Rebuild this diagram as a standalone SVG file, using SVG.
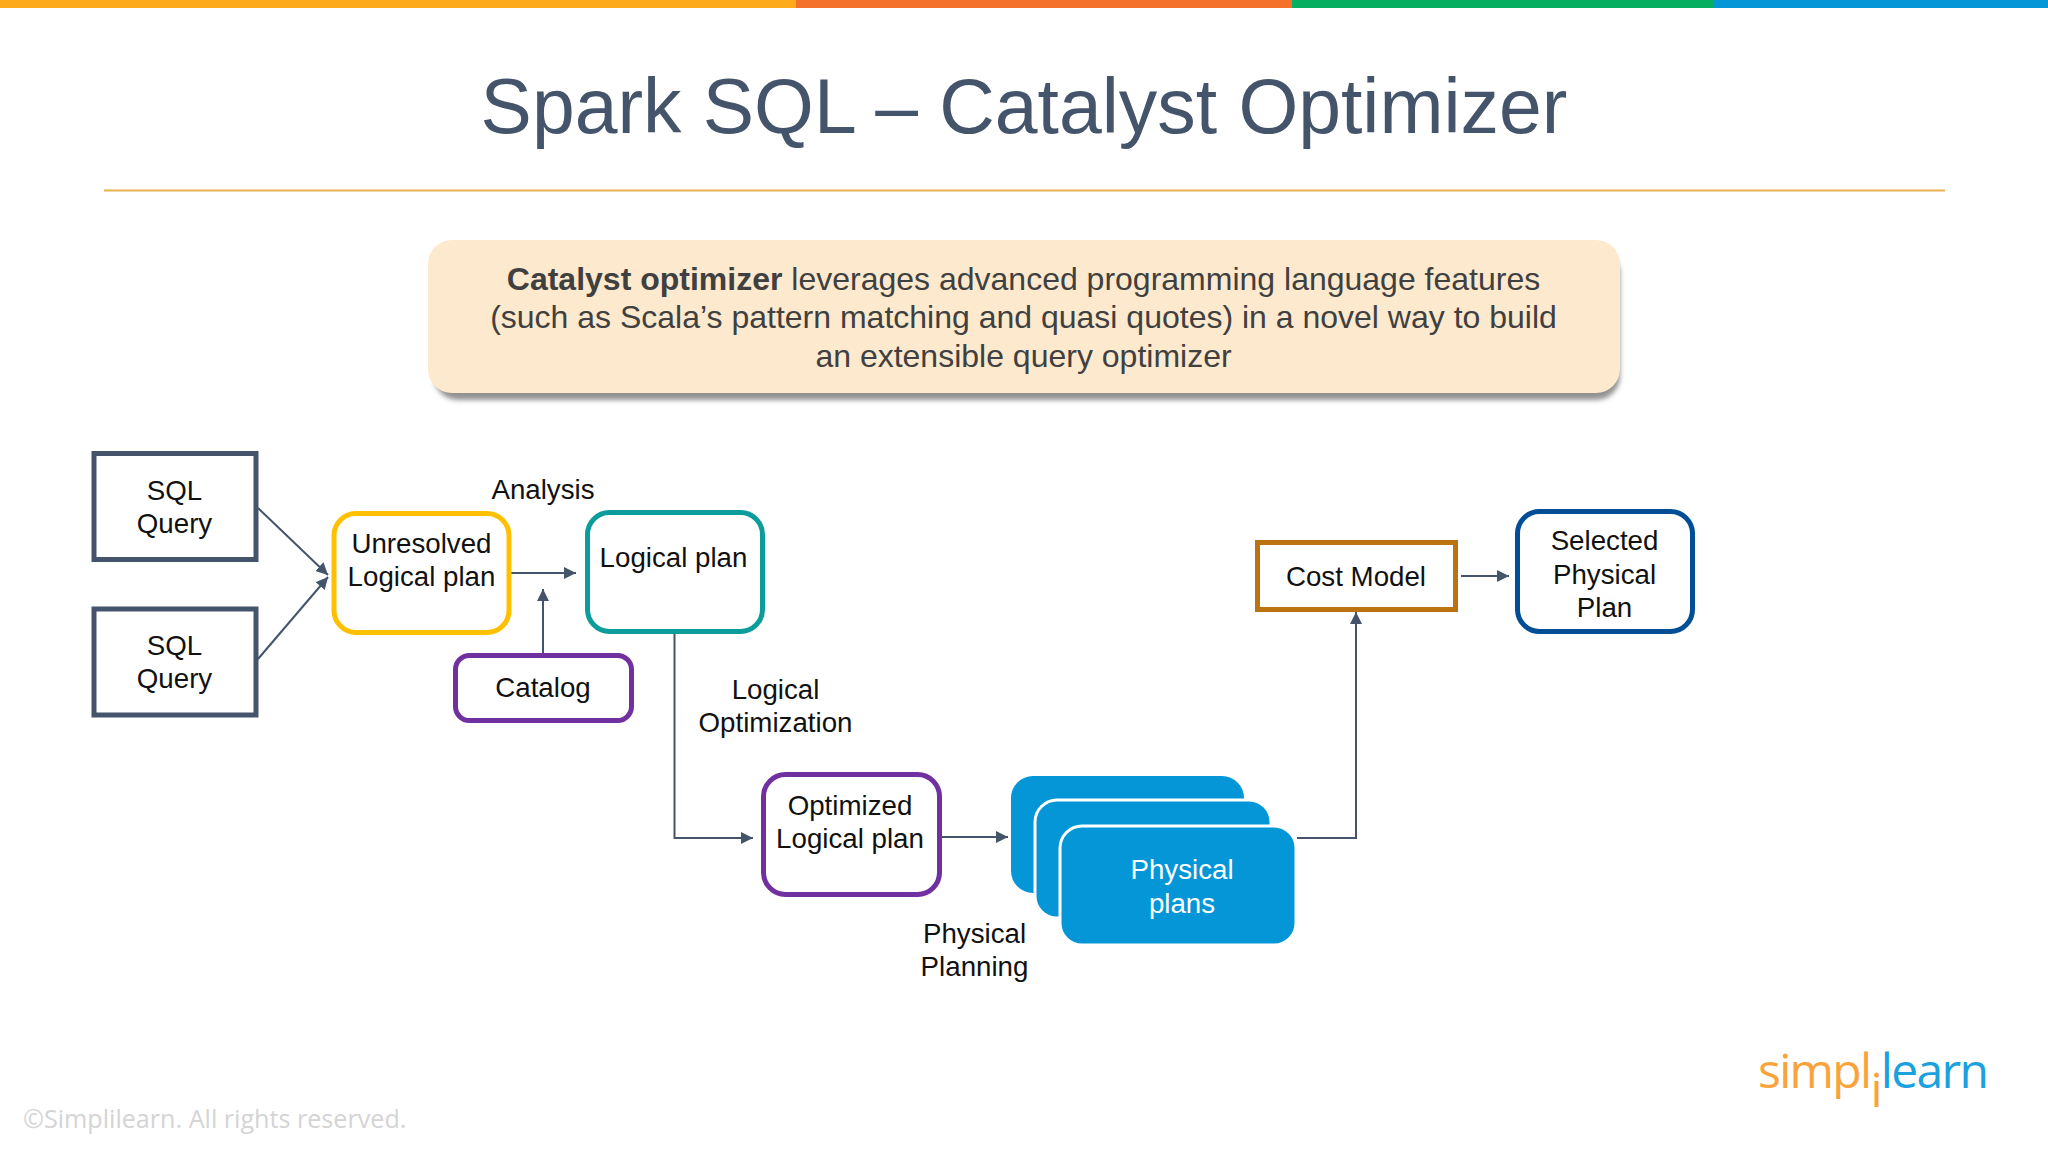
<svg xmlns="http://www.w3.org/2000/svg" width="2048" height="1152" viewBox="0 0 2048 1152">
<defs>
<style>
text{font-family:"Liberation Sans",Arial,sans-serif;}
.t{font-size:27.7px;fill:#111;text-anchor:middle;}
.w{fill:#fff;}
.b{fill:#fff;stroke-width:5;}
.c{fill:none;stroke:#44546a;stroke-width:2;}
.call{font-size:32px;fill:#404040;text-anchor:middle;}
</style>
<filter id="blur" x="-5%" y="-20%" width="110%" height="140%"><feGaussianBlur stdDeviation="2.500"/></filter>
<marker id="a" viewBox="0 0 10 10" refX="10" refY="5" markerWidth="12" markerHeight="12" markerUnits="userSpaceOnUse" orient="auto"><path d="M0 0L10 5L0 10Z" fill="#44546a"/></marker>
</defs>
<rect width="2048" height="1152" fill="#fff"/>
<rect x="0" y="0" width="796" height="8" fill="#fdab1d"/>
<rect x="796" y="0" width="496" height="8" fill="#f4712c"/>
<rect x="1292" y="0" width="422" height="8" fill="#06ae60"/>
<rect x="1714" y="0" width="334" height="8" fill="#0596d8"/>
<text x="1024" y="133" font-size="76.900" fill="#44546a" text-anchor="middle">Spark SQL – Catalyst Optimizer</text>
<line x1="104" y1="190.500" x2="1945" y2="190.500" stroke="#e8b04f" stroke-width="2"/>
<g id="callout">
<rect x="434" y="250" width="1186" height="150" rx="24" fill="#777" opacity=".8" filter="url(#blur)"/>
<rect x="428" y="240" width="1192" height="153" rx="24" fill="#fde9cd"/>
<text class="call" x="1023.500" y="290"><tspan font-weight="700">Catalyst optimizer</tspan> leverages advanced programming language features</text>
<text class="call" x="1023.500" y="328">(such as Scala’s pattern matching and quasi quotes) in a novel way to build</text>
<text class="call" x="1023.500" y="367">an extensible query optimizer</text>
</g>
<g id="connectors">
<path class="c" marker-end="url(#a)" d="M258 508L328 575"/>
<path class="c" marker-end="url(#a)" d="M258 659L328 577"/>
<path class="c" marker-end="url(#a)" d="M509 573H576"/>
<path class="c" marker-end="url(#a)" d="M543 653V589"/>
<path class="c" marker-end="url(#a)" d="M674.500 634V838H753"/>
<path class="c" marker-end="url(#a)" d="M941 837H1008"/>
<path class="c" marker-end="url(#a)" d="M1297 838H1356V612"/>
<path class="c" marker-end="url(#a)" d="M1461 576H1509"/>
</g>
<g id="sql1"><rect class="b" x="94" y="453.500" width="162" height="106" stroke="#44546a"/><text class="t" x="174.500" y="499.500">SQL</text><text class="t" x="174.500" y="532.500">Query</text></g>
<g id="sql2"><rect class="b" x="94" y="609" width="162" height="106" stroke="#44546a"/><text class="t" x="174.500" y="654.500">SQL</text><text class="t" x="174.500" y="688">Query</text></g>
<g id="unresolved"><rect class="b" x="334" y="513.500" width="175" height="119" rx="22" stroke="#ffc000"/><text class="t" x="421.500" y="552.500">Unresolved</text><text class="t" x="421.500" y="586">Logical plan</text></g>
<text class="t" x="543" y="498.500">Analysis</text>
<g id="logical"><rect class="b" x="587.500" y="512.500" width="175" height="119" rx="22" stroke="#0c9c9c"/><text class="t" x="673.500" y="566.500">Logical plan</text></g>
<g id="catalog"><rect class="b" x="455.500" y="655.500" width="176" height="65" rx="14" stroke="#7030a0"/><text class="t" x="543" y="697">Catalog</text></g>
<text class="t" x="775.500" y="699">Logical</text>
<text class="t" x="775.500" y="732">Optimization</text>
<g id="optimized"><rect class="b" x="763.500" y="774.500" width="176" height="120" rx="22" stroke="#7030a0"/><text class="t" x="850" y="814.500">Optimized</text><text class="t" x="850" y="848">Logical plan</text></g>
<g id="plans">
<rect x="1011" y="776" width="233" height="117" rx="22" fill="#0596d8"/>
<rect x="1035" y="800" width="236" height="118" rx="22" fill="#0596d8" stroke="#fff" stroke-width="3"/>
<rect x="1060" y="826" width="236" height="119" rx="22" fill="#0596d8" stroke="#fff" stroke-width="3"/>
<text class="t w" x="1182" y="879">Physical</text><text class="t w" x="1182" y="912.500">plans</text>
</g>
<text class="t" x="974.500" y="943">Physical</text>
<text class="t" x="974.500" y="976">Planning</text>
<g id="cost"><rect class="b" x="1257.500" y="542.500" width="198" height="67" stroke="#bb7311"/><text class="t" x="1356" y="586">Cost Model</text></g>
<g id="selected"><rect class="b" x="1517.500" y="511.500" width="175" height="120" rx="22" stroke="#004f96"/><text class="t" x="1604.500" y="549.500">Selected</text><text class="t" x="1604.500" y="583.500">Physical</text><text class="t" x="1604.500" y="616.500">Plan</text></g>
<text x="1758" y="1088" font-size="48" font-weight="400" style="font-family:'Open Sans',sans-serif;letter-spacing:-1.700px"><tspan fill="#f9a43b">simpl</tspan><tspan fill="#f9a43b" dy="19">i</tspan><tspan fill="#1ba1de" dy="-19">learn</tspan></text>
<text x="23" y="1127.500" font-size="25.150" fill="#d4d4d4" style="font-family:'Open Sans',sans-serif">©Simplilearn. All rights reserved.</text>
</svg>
